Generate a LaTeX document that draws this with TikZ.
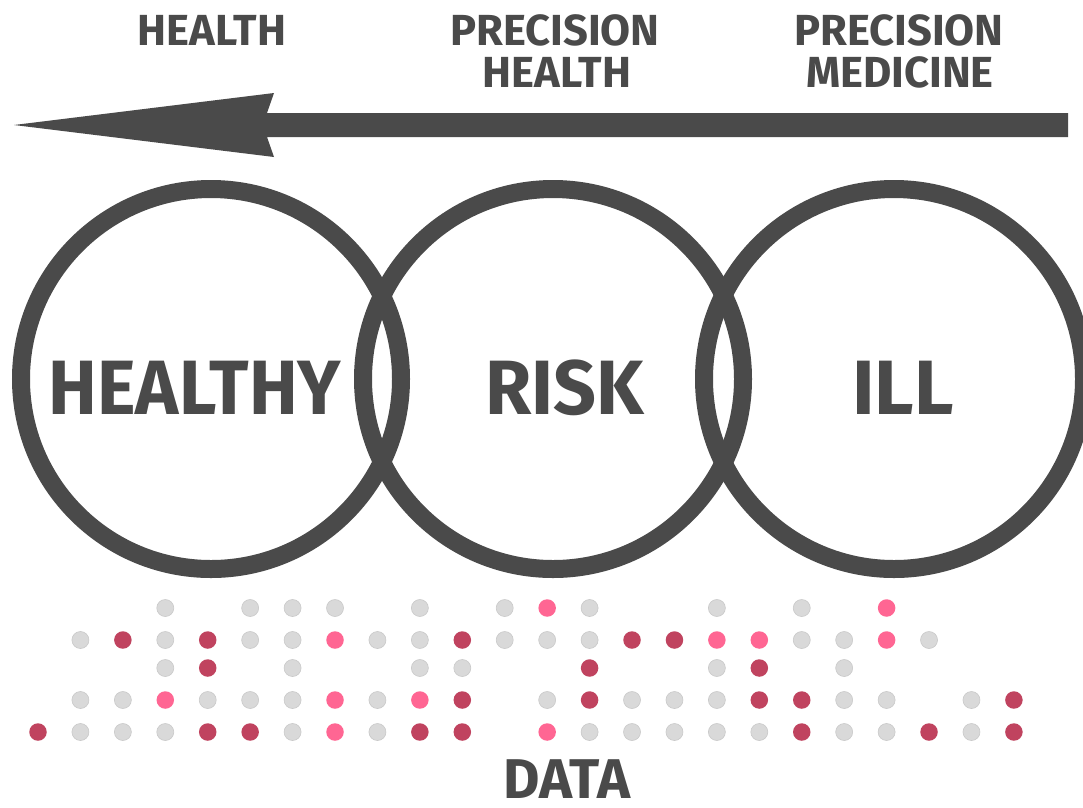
\documentclass[tikz,border=0pt]{standalone}
\usepackage{fontspec}
\setmainfont{Fira Sans}
\definecolor{ink}{HTML}{4A4A4A}
\definecolor{dg}{HTML}{D9D9D9}
\definecolor{dgb}{HTML}{C9C9C9}
\definecolor{dd}{HTML}{C0435F}
\definecolor{dp}{HTML}{FF6693}
\tikzset{
  ring/.style={circle,draw=ink,line width=18pt,minimum size=380pt,inner sep=0pt},
  big/.style={text=ink,font=\fontsize{77}{80}\selectfont\bfseries,anchor=base,inner sep=0pt},
  top/.style={text=ink,font=\fontsize{43.5}{42}\selectfont\bfseries,anchor=base,inner sep=0pt,align=center},
  dotg/.style={circle,fill=dg,draw=dgb,line width=0.6pt,minimum size=17pt,inner sep=0pt},
  dotd/.style={circle,fill=dd,minimum size=17.5pt,inner sep=0pt},
  dotp/.style={circle,fill=dp,minimum size=17.5pt,inner sep=0pt}
}
\begin{document}
\begin{tikzpicture}[x=1pt,y=-1pt]
\useasboundingbox (0,0) rectangle (1083,807);
\fill[white] (0,0) rectangle (1083,807);
% arrow
\fill[ink] (1068,113) -- (267,113) -- (274,93) -- (14,125) -- (274,157) -- (267,137) -- (1068,137) -- cycle;
% top labels
\node[top] (lhealth) at (212,45) {HEALTH};
\node[top] (lprec1) at (555,45) {PRECISION};
\node[top] (lprec2) at (557,87) {HEALTH};
\node[top] (lmed1) at (899,45) {PRECISION};
\node[top] (lmed2) at (900,87) {MEDICINE};
% circles
\node[ring] (c1) at (211,379) {};
\node[ring] (c2) at (553,379) {};
\node[ring] (c3) at (894,379) {};
\node[big] (thealthy) at (195,414) {\scalebox{0.95}[1]{HEALTHY}};
\node[big] (trisk) at (565,414) {\scalebox{0.975}[1]{RISK}};
\node[big] (till) at (903,414) {ILL};
% dots
\foreach \r/\yy/\lst in {
  1/608/{3/g,5/g,6/g,7/g,9/g,11/g,12/p,13/g,16/g,18/g,20/p},
  2/640/{1/g,2/d,3/g,4/d,5/g,6/g,7/p,8/g,9/g,10/d,11/g,12/g,13/g,14/d,15/d,16/p,17/p,18/g,19/g,20/p,21/g},
  3/668/{3/g,4/d,6/g,9/g,10/g,13/d,16/g,17/d,19/g},
  4/700/{1/g,2/g,3/p,4/g,5/g,6/g,7/p,8/g,9/p,10/d,12/g,13/d,14/g,15/g,16/g,17/d,18/d,19/g,20/g,22/g,23/d},
  5/732/{0/d,1/g,2/g,3/g,4/d,5/d,6/g,7/p,8/g,9/d,10/d,12/p,13/g,14/g,15/g,16/g,17/g,18/d,19/g,20/g,21/d,22/g,23/d}}{
  \foreach \k/\c in \lst {
    \node[dot\c] (d\r-\k) at ({38+42.43*\k},\yy) {};
  }
}
\node[text=ink,font=\fontsize{56}{60}\selectfont\bfseries,anchor=base,inner sep=0pt] (tdata) at (567,798) {DATA};
\end{tikzpicture}
\end{document}
